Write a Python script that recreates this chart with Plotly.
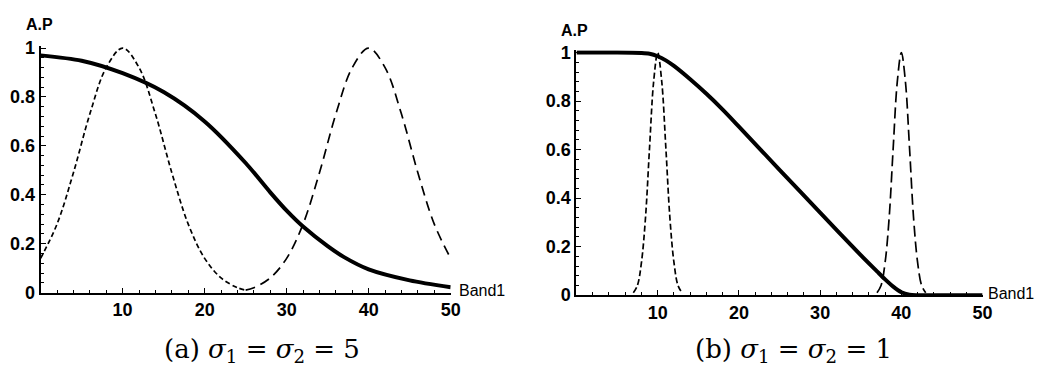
import plotly.graph_objects as go

W, H = 1053, 379

# ---------------- data ----------------
# Panel (a): sigma1 = sigma2 = 5
a_solid_x = [0, 5, 10, 15, 20, 25, 28, 30, 32, 35, 37, 40, 45, 50]
a_solid_y = [0.97, 0.948, 0.897, 0.82, 0.70, 0.53, 0.41, 0.335, 0.27, 0.19, 0.145, 0.095, 0.05, 0.022]

a_g1_x = [0, 2, 4, 6, 8, 10, 12, 14, 16, 18, 20, 22, 24, 25]
a_g1_y = [0.14, 0.28, 0.49, 0.73, 0.92, 1.0, 0.92, 0.73, 0.49, 0.28, 0.14, 0.06, 0.02, 0.01]

a_g2_x = [25, 26, 28, 30, 32, 34, 36, 38, 40, 42, 44, 46, 48, 50]
a_g2_y = [0.01, 0.02, 0.06, 0.14, 0.28, 0.49, 0.73, 0.92, 1.0, 0.92, 0.73, 0.49, 0.28, 0.14]

# Panel (b): sigma1 = sigma2 = 1
b_solid_x = [0, 5, 8, 9, 10, 11, 12, 14, 16, 18, 20, 25, 30, 35, 37, 38, 39, 40, 41, 42, 50]
b_solid_y = [1.0, 1.0, 0.998, 0.995, 0.985, 0.968, 0.945, 0.89, 0.83, 0.765, 0.695, 0.517, 0.34, 0.165, 0.098, 0.065, 0.035, 0.012, 0.002, 0.0, 0.0]

b_g1_x = [7, 7.5, 8, 8.5, 9, 9.5, 10, 10.5, 11, 11.5, 12, 12.5, 13]
b_g1_y = [0.01, 0.04, 0.135, 0.32, 0.61, 0.88, 1.0, 0.88, 0.61, 0.32, 0.135, 0.04, 0.01]

b_g2_x = [37, 37.5, 38, 38.5, 39, 39.5, 40, 40.5, 41, 41.5, 42, 42.5, 43]
b_g2_y = [0.01, 0.04, 0.135, 0.32, 0.61, 0.88, 1.0, 0.88, 0.61, 0.32, 0.135, 0.04, 0.01]

x_ticks = [10, 20, 30, 40, 50]
x_tick_text = ["10", "20", "30", "40", "50"]
y_ticks = [0, 0.2, 0.4, 0.6, 0.8, 1.0]
y_tick_text = ["0", "0.2", "0.4", "0.6", "0.8", "1"]

caption_a = "(a) <i>σ</i><sub>1</sub> = <i>σ</i><sub>2</sub> = 5"
caption_b = "(b) <i>σ</i><sub>1</sub> = <i>σ</i><sub>2</sub> = 1"
x_label = "Band1"
y_label = "A.P"

# ---------------- figure ----------------
fig = go.Figure()

def add_panel(xa, ya, sx, sy, g1x, g1y, g2x, g2y, d1, d2):
    fig.add_trace(go.Scatter(x=g1x, y=g1y, mode="lines", xaxis=xa, yaxis=ya,
                             line=dict(color="black", width=1.7, dash=d1, shape="spline", smoothing=1.0),
                             showlegend=False, hoverinfo="skip"))
    fig.add_trace(go.Scatter(x=g2x, y=g2y, mode="lines", xaxis=xa, yaxis=ya,
                             line=dict(color="black", width=1.7, dash=d2, shape="spline", smoothing=1.0),
                             showlegend=False, hoverinfo="skip"))
    fig.add_trace(go.Scatter(x=sx, y=sy, mode="lines", xaxis=xa, yaxis=ya,
                             line=dict(color="black", width=4, shape="spline", smoothing=0.8),
                             showlegend=False, hoverinfo="skip"))

add_panel("x", "y", a_solid_x, a_solid_y, a_g1_x, a_g1_y, a_g2_x, a_g2_y, "5px,3px", "10px,6px")
add_panel("x2", "y2", b_solid_x, b_solid_y, b_g1_x, b_g1_y, b_g2_x, b_g2_y, "6px,3px", "11px,5px")

FONT = "Liberation Sans, Arial, sans-serif"
tickfont = dict(family=FONT, size=18, color="black")

def bold(lst):
    return ["<b>" + t + "</b>" for t in lst]

def xaxis(domain, anchor):
    return dict(domain=domain, anchor=anchor, range=[0, 50], showgrid=False, zeroline=False,
                showline=True, linecolor="black", linewidth=2,
                ticks="inside", ticklen=5, tickwidth=1.4, tickcolor="black",
                tickvals=x_ticks, ticktext=bold(x_tick_text), tickfont=tickfont,
                minor=dict(ticks="inside", ticklen=3, tickwidth=1, tickcolor="black", dtick=2, tick0=0, showgrid=False))

def yaxis(domain, anchor):
    return dict(domain=domain, anchor=anchor, range=[0, 1.01], showgrid=False, zeroline=False,
                showline=True, linecolor="black", linewidth=2,
                ticks="inside", ticklen=5, tickwidth=1.4, tickcolor="black",
                tickvals=y_ticks, ticktext=bold(y_tick_text), tickfont=tickfont,
                minor=dict(ticks="inside", ticklen=3, tickwidth=1, tickcolor="black", dtick=0.04, tick0=0, showgrid=False))

fig.update_layout(
    width=W, height=H,
    margin=dict(l=0, r=0, t=0, b=0),
    paper_bgcolor="white", plot_bgcolor="white",
    xaxis=xaxis([41 / W, 455 / W], "y"),
    yaxis=yaxis([(H - 299) / H, (H - 40.4) / H], "x"),
    xaxis2=xaxis([582 / W, 992 / W], "y2"),
    yaxis2=yaxis([(H - 301.7) / H, (H - 45.2) / H], "x2"),
)

labfont = dict(family=FONT, size=16, color="black")
apfont = dict(family=FONT, size=16, color="black")
capfont = dict(family="DejaVu Serif, serif", size=26, color="black")
annos = [
    dict(text=x_label, x=50, y=0, xref="x", yref="y", xanchor="left", yanchor="middle",
         xshift=6, yshift=2, showarrow=False, font=labfont),
    dict(text=x_label, x=50, y=0, xref="x2", yref="y2", xanchor="left", yanchor="middle",
         xshift=3, yshift=2, showarrow=False, font=labfont),
    dict(text="<b>" + y_label + "</b>", x=0, y=1, xref="x", yref="y", xanchor="center", yanchor="bottom",
         xshift=-1, yshift=13, showarrow=False, font=apfont),
    dict(text="<b>" + y_label + "</b>", x=0, y=1, xref="x2", yref="y2", xanchor="center", yanchor="bottom",
         xshift=-2, yshift=12, showarrow=False, font=apfont),
    dict(text=caption_a, x=265 / W, y=(H - 360) / H, xref="paper", yref="paper", xanchor="center", yanchor="middle",
         showarrow=False, font=capfont),
    dict(text=caption_b, x=801 / W, y=(H - 360) / H, xref="paper", yref="paper", xanchor="center", yanchor="middle",
         showarrow=False, font=capfont),
]
fig.update_layout(annotations=annos)

page_fix = ("document.body.style.margin='0';document.body.style.padding='0';"
            "document.documentElement.style.overflow='hidden';")

fig.write_html("out.html", config={"displayModeBar": False}, post_script=page_fix)
